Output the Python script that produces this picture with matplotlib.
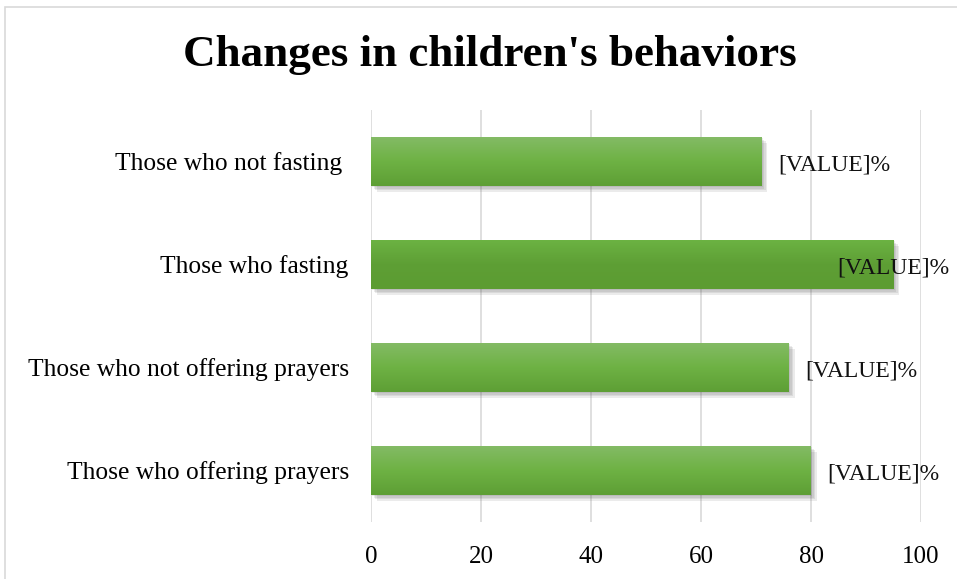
import numpy as np
import matplotlib.pyplot as plt
import matplotlib.patheffects as pe
from matplotlib.colors import LinearSegmentedColormap
from matplotlib.patches import Rectangle

plt.rcParams['font.family'] = ['Liberation Serif', 'DejaVu Serif']

categories = ['Those who offering prayers', 'Those who not offering prayers',
              'Those who fasting', 'Those who not fasting ']
values = [80, 76, 95, 71]
label_text = '[VALUE]%'
xticks = [0, 20, 40, 60, 80, 100]

fig = plt.figure(figsize=(9.57, 5.79), dpi=100)
ax = fig.add_axes([371 / 957, 1 - 522 / 579, 550 / 957, 412 / 579])

# light chart border
fig.patches.append(Rectangle((5 / 957, -0.1), 1.2, 1.1 - 7 / 579, transform=fig.transFigure,
                             fill=False, edgecolor='#d9d9d9', linewidth=1.2))

ypos = np.arange(len(categories))
height = 0.476
grad = np.linspace(0, 1, 64).reshape(-1, 1)

# soft shadow = a few faint offset copies
shadow = [pe.SimplePatchShadow(offset=(d, -d), shadow_rgbFace='#444444', alpha=0.10)
          for d in (1, 2, 3, 4)]

for i, v in enumerate(values):
    bar = ax.barh(ypos[i], v, height=height, color='#70ad47', zorder=3)[0]
    bar.set_path_effects(shadow + [pe.Normal()])
    if categories[i] == 'Those who fasting':
        cmap = LinearSegmentedColormap.from_list('g2', ['#6cb343', '#5e9f35', '#5c9c32'])
    else:
        cmap = LinearSegmentedColormap.from_list('g', ['#84bb66', '#6eb244', '#5e9f35'])
    im = ax.imshow(grad, cmap=cmap, aspect='auto', zorder=4, origin='upper',
                   extent=[0, v, ypos[i] - height / 2, ypos[i] + height / 2])
    im.set_clip_path(bar)
    # label sits outside the bar end, but is kept inside the chart
    ax.text(min(v + 3, 84.8), ypos[i] - 0.03, label_text, va='center', ha='left',
            fontsize=17, color='#111111', zorder=5)

ax.set_xlim(0, 100)
ax.set_ylim(-0.5, len(categories) - 0.5)
ax.set_yticks(ypos)
ax.set_yticklabels(categories, fontsize=18.4)
ax.set_xticks(xticks)
ax.set_xticklabels([str(t) for t in xticks], fontsize=18)
ax.tick_params(axis='both', length=0)
ax.tick_params(axis='x', pad=17)
ax.tick_params(axis='y', pad=16)
ax.grid(axis='x', color='#d9d9d9', linewidth=1.2, zorder=0)
for s in ax.spines.values():
    s.set_visible(False)

fig.text(490 / 957, 1 - 55 / 579, "Changes in children's behaviors", ha='center', va='center',
         fontsize=32.5, fontweight='bold')

fig.savefig('out.png', dpi=100)
